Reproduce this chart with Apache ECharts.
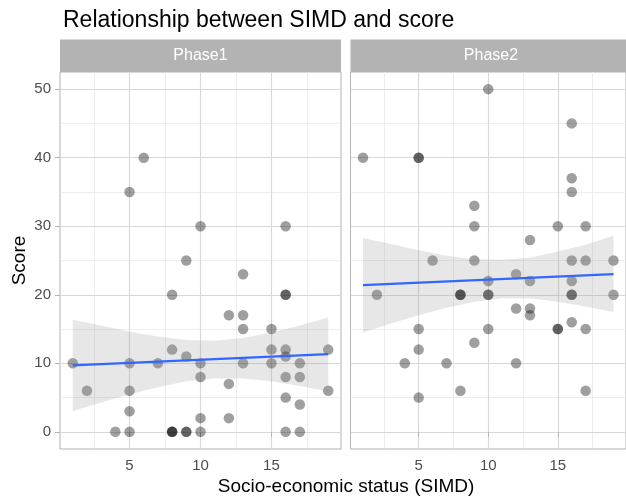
<!DOCTYPE html>
<html><head><meta charset="utf-8">
<script src="https://cdn.jsdelivr.net/npm/echarts@6/dist/echarts.min.js"></script>
<style>html,body{margin:0;padding:0;background:#fff}#c{width:626px;height:502px}</style>
</head><body><div id="c"></div>
<script>
const titleText = 'Relationship between SIMD and score';
const panelNames = ['Phase1', 'Phase2'];
const xTitle = 'Socio-economic status (SIMD)';
const yTitle = 'Score';

// Phase1 points (duplicates = overlapping points)
const p1X = [6,5,10,16,9,13,8,16,16,12,13,13,15,8,15,16,19,9,16,1,5,7,10,13,15,17,10,16,17,12,2,5,19,16,17,5,10,12,4,5,8,8,8,9,9,10,16,17];
const p1Y = [40,35,30,30,25,23,20,20,20,17,17,15,15,12,12,12,12,11,11,10,10,10,10,10,10,10,8,8,8,7,6,6,6,5,4,3,2,2,0,0,0,0,0,0,0,0,0,0];
// Phase2 points
const p2X = [10,16,1,5,5,16,16,9,9,15,17,13,6,9,16,17,19,12,10,13,16,2,8,8,8,10,10,16,16,19,12,13,13,5,10,15,15,16,17,9,5,4,7,12,8,17,5];
const p2Y = [50,45,40,40,40,37,35,33,30,30,30,28,25,25,25,25,25,23,22,22,22,20,20,20,20,20,20,20,20,20,18,18,17,15,15,15,15,16,15,13,12,10,10,10,6,6,5];

// fitted lines
const fitX = [1, 19];
const p1Fit = [9.7, 11.35];
const p2Fit = [21.4, 23.0];

// confidence band
const bandX = [1, 3, 5, 7, 9, 11, 13, 15, 17, 19];
const p1Lo = [3.05, 4.3, 5.5, 6.5, 7.4, 7.8, 7.8, 7.4, 6.7, 5.9];
const p1Hi = [16.35, 15.5, 14.6, 13.9, 13.4, 13.3, 13.7, 14.5, 15.5, 16.7];
const p2Lo = [14.5, 15.8, 17.0, 18.1, 19.0, 19.5, 19.5, 19.0, 18.3, 17.5];
const p2Hi = [28.3, 27.4, 26.5, 25.7, 25.2, 25.1, 25.4, 26.3, 27.3, 28.6];

// ticks
const xTicks = [5, 10, 15];
const yTicks = [0, 10, 20, 30, 40, 50];
const xMinor = [2.5, 7.5, 12.5, 17.5];
const yMinor = [5, 15, 25, 35, 45];
const xRange = [0.1, 19.9];
const yRange = [-2.5, 52.5];

const FONT = "'Liberation Sans', Arial, sans-serif";
const zip = (a, b) => a.map((v, i) => [v, b[i]]);

const panelsData = [
  {x: p1X, y: p1Y, fit: p1Fit, lo: p1Lo, hi: p1Hi},
  {x: p2X, y: p2Y, fit: p2Fit, lo: p2Lo, hi: p2Hi}
];
const gridLefts = [60, 350.5];
const gridTop = 72, gridH = 377, gridW = 281;

const grids = gridLefts.map(l => ({left: l, top: gridTop, width: gridW, height: gridH,
  show: true, borderColor: '#B3B3B3', borderWidth: 1, backgroundColor: 'transparent'}));

const xAxes = panelsData.map((p, i) => ({
  type: 'value', gridIndex: i, min: xRange[0], max: xRange[1],
  axisLine: {show: false}, splitLine: {show: false},
  axisTick: {show: true, length: 5, lineStyle: {color: '#B3B3B3'}, customValues: xTicks},
  axisLabel: {color: '#4D4D4D', fontSize: 15, margin: 9, customValues: xTicks, fontFamily: FONT}
}));
const yAxes = panelsData.map((p, i) => ({
  type: 'value', gridIndex: i, min: yRange[0], max: yRange[1],
  axisLine: {show: false}, splitLine: {show: false},
  axisTick: {show: i === 0, length: 5, lineStyle: {color: '#B3B3B3'}, customValues: yTicks},
  axisLabel: {show: i === 0, color: '#4D4D4D', fontSize: 15, margin: 9, customValues: yTicks, fontFamily: FONT},
  name: i === 0 ? yTitle : '', nameLocation: 'middle', nameGap: 31, nameRotate: 90,
  nameTextStyle: {color: '#000', fontSize: 19, fontFamily: FONT}
}));

const series = [];
panelsData.forEach((p, i) => {
  // grid lines
  const ml = [];
  xMinor.forEach(v => ml.push({xAxis: v, lineStyle: {color: '#E8E8E8', width: 0.8, type: 'solid'}}));
  yMinor.forEach(v => ml.push({yAxis: v, lineStyle: {color: '#E8E8E8', width: 0.8, type: 'solid'}}));
  xTicks.forEach(v => ml.push({xAxis: v, lineStyle: {color: '#D8D8D8', width: 1.1, type: 'solid'}}));
  yTicks.forEach(v => ml.push({yAxis: v, lineStyle: {color: '#D8D8D8', width: 1.1, type: 'solid'}}));
  series.push({
    type: 'line', xAxisIndex: i, yAxisIndex: i, data: [], z: 0, silent: true,
    markLine: {silent: true, z: 0, symbol: 'none', label: {show: false}, animation: false, data: ml}
  });
  series.push({
    type: 'scatter', xAxisIndex: i, yAxisIndex: i, data: zip(p.x, p.y),
    symbolSize: 10.5, itemStyle: {color: 'rgba(0,0,0,0.47)'}, z: 2
  });
  series.push({
    type: 'custom', xAxisIndex: i, yAxisIndex: i, z: 3, silent: true,
    data: bandX.map((x, k) => [x, p.lo[k], p.hi[k]]),
    encode: {x: 0, y: [1, 2]},
    renderItem: (params, api) => {
      if (params.dataIndexInside !== 0) return null;
      const n = params.dataInsideLength;
      const top = [], bot = [];
      for (let k = 0; k < n; k++) {
        top.push(api.coord([api.value(0, k), api.value(2, k)]));
        bot.push(api.coord([api.value(0, k), api.value(1, k)]));
      }
      return {type: 'polygon', shape: {points: top.concat(bot.reverse())},
        style: {fill: 'rgba(153,153,153,0.24)'}};
    }
  });
  series.push({
    type: 'line', xAxisIndex: i, yAxisIndex: i, data: zip(fitX, p.fit), symbol: 'none',
    lineStyle: {color: '#3366FF', width: 2.2}, z: 4, silent: true
  });
});

const graphics = [];
panelNames.forEach((n, i) => {
  graphics.push({type: 'rect', shape: {x: gridLefts[i], y: 39.5, width: gridW, height: 32.5},
    style: {fill: '#B3B3B3'}, silent: true});
  graphics.push({type: 'text', x: gridLefts[i] + gridW / 2, y: 56,
    style: {text: n, fill: '#FFFFFF', font: '16px ' + FONT, textAlign: 'center', textVerticalAlign: 'middle'}, silent: true});
});
graphics.push({type: 'text', x: 346, y: 487,
  style: {text: xTitle, fill: '#000', font: '19px ' + FONT, textAlign: 'center', textVerticalAlign: 'middle'}, silent: true});

const chart = echarts.init(document.getElementById('c'), null, {renderer: 'canvas'});
chart.setOption({
  animation: false,
  backgroundColor: '#FFFFFF',
  textStyle: {fontFamily: FONT},
  title: {text: titleText, left: 58, top: 4, textStyle: {fontSize: 23, fontWeight: 'normal', color: '#000', fontFamily: FONT}},
  grid: grids,
  xAxis: xAxes,
  yAxis: yAxes,
  series: series,
  graphic: graphics
});
</script>
</body></html>
